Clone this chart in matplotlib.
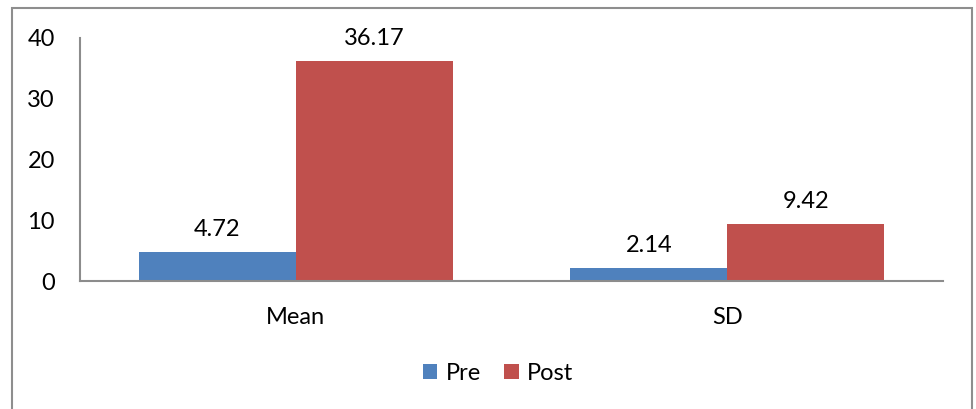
import matplotlib
matplotlib.use("Agg")
import matplotlib.pyplot as plt
import numpy as np
from matplotlib.patches import Rectangle

plt.rcParams['font.family'] = ['Lato', 'DejaVu Sans']

categories = ["Mean", "SD"]
pre_values = [4.72, 2.14]
post_values = [36.17, 9.42]
series_names = ["Pre", "Post"]
y_ticks = [0, 10, 20, 30, 40]

blue = "#4F81BD"
red = "#C0504D"
spine_gray = "#8C8C8C"

W, H = 976, 409
fig = plt.figure(figsize=(W / 100, H / 100), dpi=100)

# outer chart frame
fig.patches.append(Rectangle((12 / W, -0.02), 960 / W, 1 - 8 / H + 0.02,
                             transform=fig.transFigure, fill=False,
                             edgecolor="#8E8E8E", linewidth=1.5))

ax = fig.add_axes([80 / W, 1 - 281 / H, 863 / W, 243 / H])
x = np.arange(len(categories))
bw = 0.364
b1 = ax.bar(x - bw / 2, pre_values, bw, color=blue, label=series_names[0])
b2 = ax.bar(x + bw / 2, post_values, bw, color=red, label=series_names[1])

fs = 17
for bars, vals in ((b1, pre_values), (b2, post_values)):
    for rect, v in zip(bars, vals):
        ax.annotate(f"{v:.2f}", (rect.get_x() + rect.get_width() / 2, v),
                    xytext=(0, 12), textcoords="offset pixels",
                    ha="center", va="bottom", fontsize=fs, color="black")

ax.set_xlim(-0.5, 1.5)
ax.set_ylim(0, 40)
ax.set_yticks(y_ticks)
ax.set_xticks(x)
ax.set_xticklabels(categories)
ax.tick_params(axis="both", length=0, labelsize=fs, colors="black")
ax.tick_params(axis="y", pad=18)
ax.tick_params(axis="x", pad=19)
for s in ("top", "right"):
    ax.spines[s].set_visible(False)
for s in ("left", "bottom"):
    ax.spines[s].set_color(spine_gray)
    ax.spines[s].set_linewidth(1.5)

leg = fig.legend(handles=[b1, b2], labels=series_names, loc="center",
                 bbox_to_anchor=(498 / W, 1 - 373 / H), ncol=2, frameon=False,
                 fontsize=fs, handlelength=0.62, handleheight=0.62,
                 handletextpad=0.35, columnspacing=1.0)

fig.savefig("out.png", dpi=100)
